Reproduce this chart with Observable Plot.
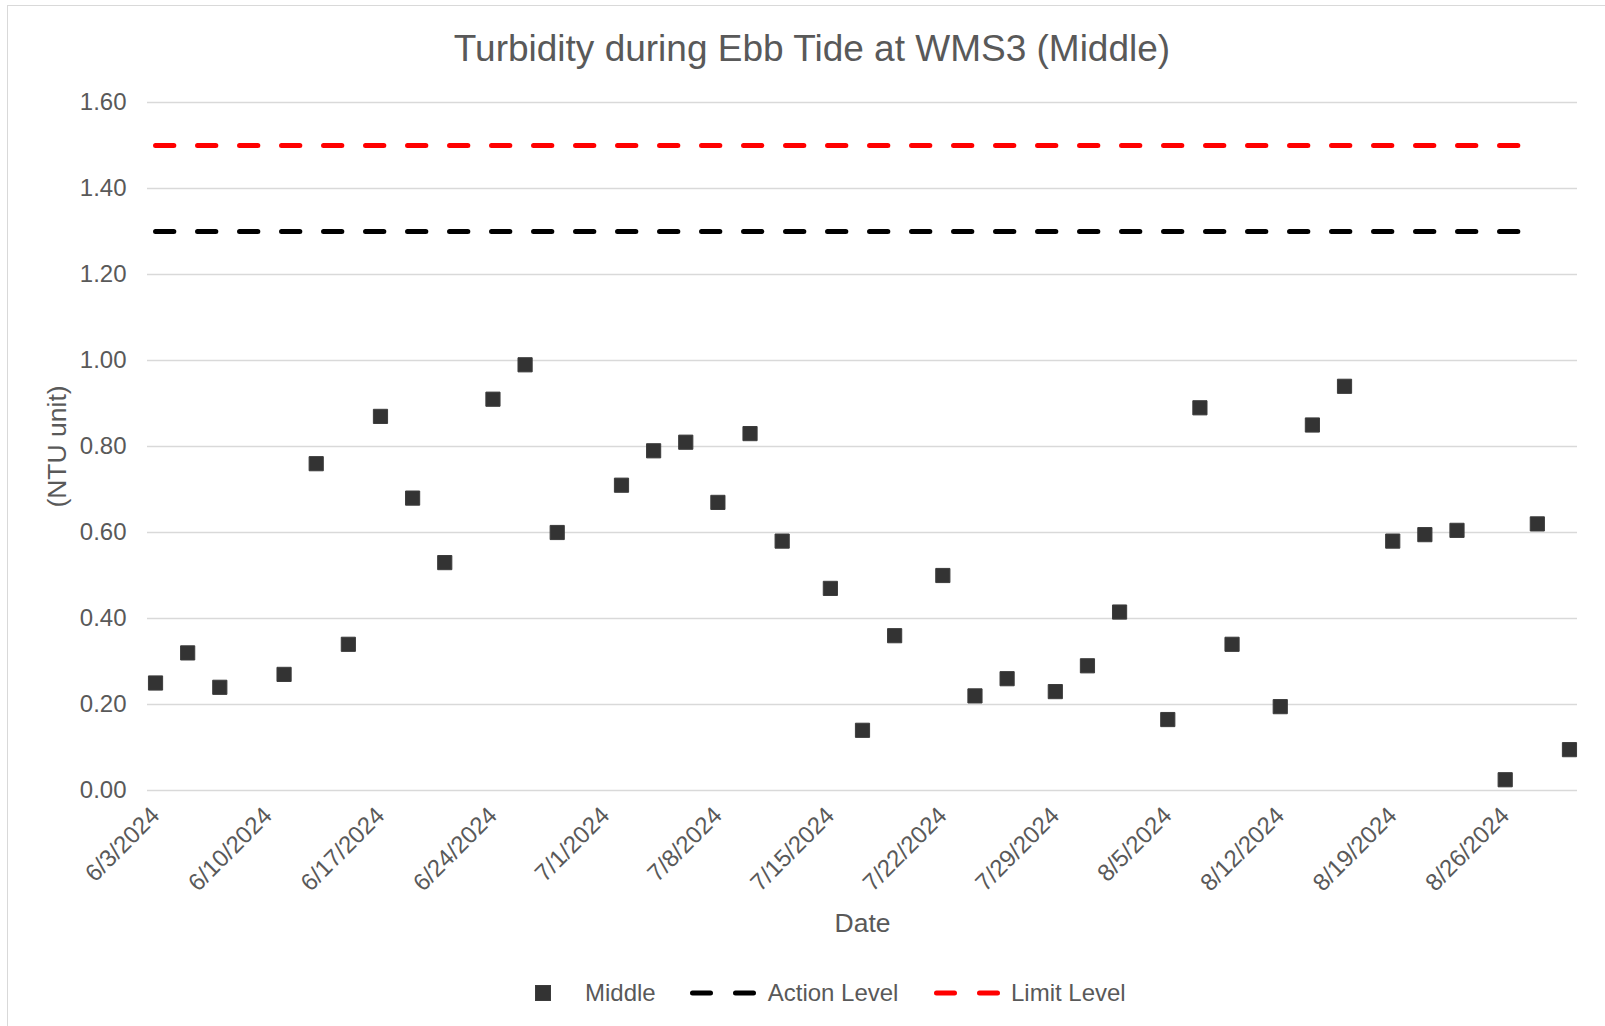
<!DOCTYPE html>
<html>
<head>
<meta charset="utf-8">
<script src="https://cdn.jsdelivr.net/npm/d3@7"></script>
<script src="https://cdn.jsdelivr.net/npm/@observablehq/plot@0.6"></script>
<style>
  html, body { margin: 0; padding: 0; background: #fff; overflow: hidden; }
  body { width: 1605px; height: 1026px; position: relative; font-family: "Liberation Sans", Arial, sans-serif; }
  #frame { position: absolute; left: 7px; top: 5px; width: 1640px; height: 1060px;
           border-left: 1.5px solid #d9d9d9; border-top: 1.5px solid #d9d9d9; }
  #title { position: absolute; left: 7px; width: 1610px; top: 30px; text-align: center;
           font-size: 37px; line-height: 37px; color: #595959; }
  #chart { position: absolute; left: 0; top: 80px; }
  #legend { position: absolute; left: 510px; top: 981px; height: 24px; display: flex; align-items: center;
            font-size: 24px; line-height: 24px; color: #595959; white-space: nowrap; }
  #legend svg { display: block; }
</style>
</head>
<body>
<div id="frame"></div>
<div id="title">Turbidity during Ebb Tide at WMS3 (Middle)</div>
<div id="chart"></div>
<div id="legend"></div>
<script>
// ---- data ----
const sampleDates = ["2024-06-03","2024-06-05","2024-06-07","2024-06-11","2024-06-13","2024-06-15","2024-06-17",
  "2024-06-19","2024-06-21","2024-06-24","2024-06-26","2024-06-28","2024-07-02","2024-07-04","2024-07-06",
  "2024-07-08","2024-07-10","2024-07-12","2024-07-15","2024-07-17","2024-07-19","2024-07-22","2024-07-24",
  "2024-07-26","2024-07-29","2024-07-31","2024-08-02","2024-08-05","2024-08-07","2024-08-09","2024-08-12",
  "2024-08-14","2024-08-16","2024-08-19","2024-08-21","2024-08-23","2024-08-26","2024-08-28","2024-08-30"];
const middleValues = [0.25,0.32,0.24,0.27,0.76,0.34,0.87,0.68,0.53,0.91,0.99,0.60,0.71,0.79,0.81,
  0.67,0.83,0.58,0.47,0.14,0.36,0.50,0.22,0.26,0.23,0.29,0.415,0.165,0.89,0.34,0.195,
  0.85,0.94,0.58,0.595,0.605,0.025,0.62,0.095];
const levelDates = ["2024-06-03","2024-08-28"];
const actionLevel = [1.3, 1.3];
const limitLevel = [1.5, 1.5];
const xDomain = ["2024-06-02T12:00Z","2024-08-30T12:00Z"];
const xTickLabels = ["6/3/2024","6/10/2024","6/17/2024","6/24/2024","7/1/2024","7/8/2024","7/15/2024",
  "7/22/2024","7/29/2024","8/5/2024","8/12/2024","8/19/2024","8/26/2024"];
const yTicks = [0,0.2,0.4,0.6,0.8,1.0,1.2,1.4,1.6];
const seriesNames = ["Middle","Action Level","Limit Level"];
const seriesColors = ["#333333","#000000","#ff0000"];

// ---- build tables ----
const parseDay = s => new Date(s + (s.length === 10 ? "T00:00Z" : ""));
const parseMDY = s => { const [m,d,y] = s.split("/").map(Number); return new Date(Date.UTC(y, m-1, d)); };
const middleData = sampleDates.map((d,i) => ({date: parseDay(d), value: middleValues[i]}));
const levelData = levelDates.map((d,i) => ({date: parseDay(d), action: actionLevel[i], limit: limitLevel[i]}));
const xTicks = xTickLabels.map(parseMDY);
const labelOf = new Map(xTicks.map((d,i) => [+d, xTickLabels[i]]));

const dash = {strokeWidth: 5, strokeDasharray: "18.3 23.7", strokeLinecap: "round"};

const chart = Plot.plot({
  width: 1605, height: 870,
  marginLeft: 147, marginRight: 28, marginTop: 22, marginBottom: 160,
  style: {fontFamily: "'Liberation Sans', Arial, sans-serif", fontSize: "24px", color: "#595959", background: "transparent"},
  x: {type: "utc", domain: xDomain.map(d => new Date(d))},
  y: {domain: [0, 1.6]},
  marks: [
    Plot.gridY(yTicks, {stroke: "#d9d9d9", strokeOpacity: 1, strokeWidth: 1.5}),
    Plot.axisY(yTicks, {tickFormat: d => d.toFixed(2), tickSize: 0, tickPadding: 21, label: null, fontSize: 24, fill: "#595959"}),
    Plot.axisY([], {label: "(NTU unit)", labelAnchor: "center", labelArrow: "none", labelOffset: 100, fontSize: 26.5, fill: "#595959"}),
    Plot.axisX(xTicks, {tickFormat: d => labelOf.get(+d), tickRotate: -45, tickSize: 0, tickPadding: 21, label: null, fontSize: 24, fill: "#595959"}),
    Plot.axisX([], {label: "Date", labelAnchor: "center", labelArrow: "none", labelOffset: 141, fontSize: 26.5, fill: "#595959"}),
    Plot.lineY(levelData, {x: "date", y: "limit", stroke: seriesColors[2], ...dash}),
    Plot.lineY(levelData, {x: "date", y: "action", stroke: seriesColors[1], ...dash}),
    Plot.dot(middleData, {x: "date", y: "value", symbol: "square", r: 8, fill: seriesColors[0], stroke: "#3c3c3c", strokeWidth: 1})
  ]
});
document.getElementById("chart").appendChild(chart);

// ---- legend ----
const legend = d3.select("#legend");
const gaps = [[0, 9], [34, 12], [35.5, 11]];
seriesNames.forEach((name, i) => {
  const svg = legend.append("svg").attr("width", 66).attr("height", 24).style("margin-left", gaps[i][0] + "px");
  if (i === 0) {
    svg.append("rect").attr("x", 33 - 7.5).attr("y", 12 - 7.5).attr("width", 15).attr("height", 15)
      .attr("fill", seriesColors[0]).attr("stroke", "#3c3c3c").attr("stroke-width", 1);
  } else {
    svg.append("line").attr("x1", 2.5).attr("x2", 63.5).attr("y1", 12).attr("y2", 12)
      .attr("stroke", seriesColors[i]).attr("stroke-width", 5).attr("stroke-linecap", "round")
      .attr("stroke-dasharray", "18 25");
  }
  legend.append("span").style("margin-left", gaps[i][1] + "px").text(name);
});
</script>
</body>
</html>
